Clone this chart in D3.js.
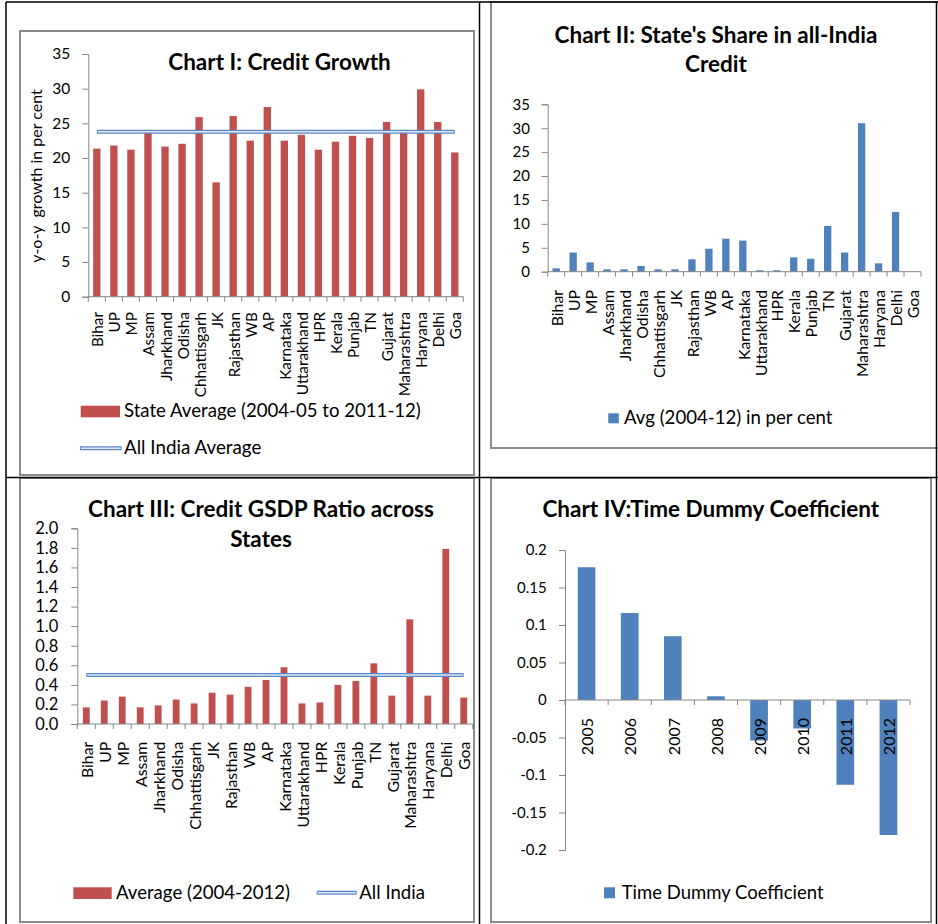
<!DOCTYPE html>
<html>
<head>
<meta charset="utf-8">
<script src="https://cdn.jsdelivr.net/npm/d3@7"></script>
<style>
  body { margin: 0; background: #fff; }
  svg { display: block; font-family: Lato, "Open Sans", sans-serif; }
</style>
</head>
<body>
<svg id="viz" width="938" height="924"></svg>
<script>
// DATA

const states = ['Bihar', 'UP', 'MP', 'Assam', 'Jharkhand', 'Odisha', 'Chhattisgarh', 'JK',
  'Rajasthan', 'WB', 'AP', 'Karnataka', 'Uttarakhand', 'HPR', 'Kerala', 'Punjab', 'TN',
  'Gujarat', 'Maharashtra', 'Haryana', 'Delhi', 'Goa'];

const creditGrowth = [21.35, 21.8, 21.2, 23.95, 21.65, 22.05, 25.9, 16.5, 26.05, 22.5, 27.35,
  22.5, 23.35, 21.2, 22.35, 23.2, 22.9, 25.2, 23.95, 29.9, 25.2, 20.8];
const creditGrowthAllIndia = 23.8;
const growthTicks = [0, 5, 10, 15, 20, 25, 30, 35];

const creditShare = [0.7, 4.0, 1.95, 0.5, 0.5, 1.2, 0.5, 0.5, 2.6, 4.8, 6.9, 6.5, 0.3, 0.3,
  3.0, 2.7, 9.55, 4.0, 31.05, 1.75, 12.5, 0];
const shareTicks = [0, 5, 10, 15, 20, 25, 30, 35];

const gsdpRatio = [0.17, 0.24, 0.28, 0.17, 0.19, 0.25, 0.21, 0.32, 0.3, 0.38, 0.45, 0.58, 0.21,
  0.22, 0.4, 0.44, 0.62, 0.29, 1.07, 0.29, 1.79, 0.27];
const gsdpAllIndia = 0.5;
const gsdpTicks = [0, 0.2, 0.4, 0.6, 0.8, 1.0, 1.2, 1.4, 1.6, 1.8, 2.0];

const years = ['2005', '2006', '2007', '2008', '2009', '2010', '2011', '2012'];
const dummyCoef = [0.177, 0.116, 0.085, 0.005, -0.054, -0.038, -0.113, -0.18];
const dummyTicks = [-0.2, -0.15, -0.1, -0.05, 0, 0.05, 0.1, 0.15, 0.2];

const RED = '#c0504d';
const BLUE = '#4f81bd';
const AXIS = '#868686';
const FRAME = '#8a8a8a';

const svg = d3.select('#viz');

// TABLE + FRAMES

const frames = [
  [20, 31, 454, 444],
  [491, 2, 470, 446],
  [20, 478, 454, 444],
  [491, 478, 440, 444]
];
svg.append('g')
  .selectAll('rect')
  .data(frames)
  .enter()
  .append('rect')
  .attr('x', (d) => d[0])
  .attr('y', (d) => d[1])
  .attr('width', (d) => d[2])
  .attr('height', (d) => d[3])
  .attr('fill', 'none')
  .attr('stroke', FRAME)
  .attr('stroke-width', 2);

const table = svg.append('g').attr('stroke', '#000').attr('stroke-width', 1.5);
table.append('line').attr('x1', 6).attr('x2', 938).attr('y1', 2).attr('y2', 2);
table.append('line').attr('x1', 6).attr('x2', 6).attr('y1', 2).attr('y2', 924);
table.append('line').attr('x1', 479.5).attr('x2', 479.5).attr('y1', 2).attr('y2', 924);
table.append('line').attr('x1', 6).attr('x2', 938).attr('y1', 477.5).attr('y2', 477.5);
table.append('line').attr('x1', 936.5).attr('x2', 936.5).attr('y1', 2).attr('y2', 924);

// CHART BUILDER

const barChart = (cfg) => {
  const g = svg.append('g');
  const x = d3.scaleBand().domain(cfg.cats).range([cfg.left, cfg.right]);
  const y = d3.scaleLinear().domain(cfg.domain).range([cfg.bottom, cfg.top]);
  const bw = x.bandwidth() * cfg.barRatio;

  // y axis
  const ya = g.append('g')
    .attr('transform', 'translate(' + cfg.left + ',0)')
    .call(d3.axisLeft(y).tickValues(cfg.ticks).tickSize(6).tickPadding(cfg.tickPad)
      .tickFormat(cfg.fmt));
  ya.select('.domain').attr('stroke', AXIS);
  ya.selectAll('.tick line').attr('stroke', AXIS);
  ya.selectAll('.tick text')
    .attr('fill', '#000')
    .style('font-size', cfg.tickFont + 'px')
    .style('font-family', 'Lato, sans-serif');

  // bars
  g.append('g')
    .selectAll('rect')
    .data(cfg.values)
    .enter()
    .append('rect')
    .attr('x', (d, i) => x(cfg.cats[i]) + (x.bandwidth() - bw) / 2)
    .attr('y', (d) => y(Math.max(0, d)))
    .attr('width', bw)
    .attr('height', (d) => Math.abs(y(d) - y(0)))
    .attr('fill', cfg.color);

  // x axis line and boundary ticks
  const y0 = y(0);
  const xa = g.append('g').attr('stroke', AXIS).attr('stroke-width', 1);
  xa.append('line')
    .attr('x1', cfg.left).attr('x2', cfg.right)
    .attr('y1', y0).attr('y2', y0);
  xa.selectAll('.bt')
    .data(d3.range(cfg.cats.length + 1))
    .enter()
    .append('line')
    .attr('x1', (i) => cfg.left + i * x.step())
    .attr('x2', (i) => cfg.left + i * x.step())
    .attr('y1', y0)
    .attr('y2', y0 + 5);

  // category labels
  g.append('g')
    .selectAll('text')
    .data(cfg.cats)
    .enter()
    .append('text')
    .attr('transform', (d) => 'translate(' + (x(d) + x.bandwidth() / 2 + 1) + ',' + cfg.labelTop + ') rotate(-90)')
    .attr('text-anchor', 'end')
    .attr('dy', '0.36em')
    .style('font-size', cfg.catFont + 'px')
    .text((d) => d);

  // average line
  if (cfg.avg !== undefined) {
    const x1 = x(cfg.cats[0]) + x.bandwidth() / 2;
    const x2 = x(cfg.cats[cfg.cats.length - 1]) + x.bandwidth() / 2;
    g.append('line')
      .attr('x1', x1).attr('x2', x2)
      .attr('y1', y(cfg.avg)).attr('y2', y(cfg.avg))
      .attr('stroke', '#5a89c8').attr('stroke-width', 4);
    g.append('line')
      .attr('x1', x1 + 1).attr('x2', x2 - 1)
      .attr('y1', y(cfg.avg)).attr('y2', y(cfg.avg))
      .attr('stroke', '#dde7f4').attr('stroke-width', 1.5);
  }

  // title
  const t = g.append('text')
    .attr('x', cfg.titleX)
    .attr('text-anchor', 'middle')
    .style('font-size', '22.5px')
    .style('font-weight', 'bold');
  cfg.title.forEach((line, i) => {
    t.append('tspan').attr('x', cfg.titleX).attr('y', cfg.titleY[i]).text(line);
  });

  return { g, x, y };
};

const legendRect = (g, x, y, w, h, color, label, tx, ty, size) => {
  g.append('rect').attr('x', x).attr('y', y).attr('width', w).attr('height', h).attr('fill', color);
  g.append('text').attr('x', tx).attr('y', ty).style('font-size', size + 'px').text(label);
};

const legendLine = (g, x1, x2, y, label, tx, ty, size) => {
  g.append('line').attr('x1', x1).attr('x2', x2).attr('y1', y).attr('y2', y)
    .attr('stroke', '#5a89c8').attr('stroke-width', 4);
  g.append('line').attr('x1', x1 + 1).attr('x2', x2 - 1).attr('y1', y).attr('y2', y)
    .attr('stroke', '#dde7f4').attr('stroke-width', 1.5);
  g.append('text').attr('x', tx).attr('y', ty).style('font-size', size + 'px').text(label);
};

// CHART I

const c1 = barChart({
  cats: states, values: creditGrowth, color: RED, avg: creditGrowthAllIndia,
  left: 88.3, right: 463.3, top: 54, bottom: 296.7, domain: [0, 35], ticks: growthTicks,
  fmt: d3.format('d'), tickPad: 12, tickFont: 15.5, catFont: 15.3, labelTop: 312, barRatio: 0.43,
  title: ['Chart I: Credit Growth'], titleX: 279.5, titleY: [70]
});
c1.g.append('text')
  .attr('transform', 'translate(36,176) rotate(-90)')
  .attr('text-anchor', 'middle')
  .attr('dy', '0.35em')
  .style('font-size', '16px')
  .style('white-space', 'pre')
  .text('y-o-y  growth in per cent');
legendRect(c1.g, 80.7, 405.7, 39.3, 11.6, RED, 'State Average (2004-05 to 2011-12)', 124, 416.5, 18.6);
legendLine(c1.g, 80, 121.7, 448.3, 'All India Average', 124, 454, 18.8);

// CHART II

const c2 = barChart({
  cats: states, values: creditShare, color: BLUE,
  left: 547.7, right: 921, top: 104.3, bottom: 271.7, domain: [0, 35], ticks: shareTicks,
  fmt: d3.format('d'), tickPad: 11.7, tickFont: 15, catFont: 15.8, labelTop: 290, barRatio: 0.43,
  title: ["Chart II: State's Share in all-India", 'Credit'], titleX: 716, titleY: [42.7, 71.7]
});
legendRect(c2.g, 608.3, 413.3, 10.5, 10, BLUE, 'Avg (2004-12) in per cent', 624, 424, 18.6);

// CHART III

const c3 = barChart({
  cats: states, values: gsdpRatio, color: RED, avg: gsdpAllIndia,
  left: 77.3, right: 472.7, top: 528.3, bottom: 724, domain: [0, 2], ticks: gsdpTicks,
  fmt: d3.format('.1f'), tickPad: 13, tickFont: 16.5, catFont: 15.8, labelTop: 741.7, barRatio: 0.38,
  title: ['Chart III: Credit GSDP Ratio across', 'States'], titleX: 261, titleY: [517.3, 546.7]
});
legendRect(c3.g, 73.3, 887.3, 38.4, 11.7, RED, 'Average (2004-2012)', 116, 898.5, 18.6);
legendLine(c3.g, 316.7, 356.7, 892.7, 'All India', 359.3, 898.5, 18.6);

// CHART IV

const c4 = barChart({
  cats: years, values: dummyCoef, color: BLUE,
  left: 565, right: 910, top: 550, bottom: 850, domain: [-0.2, 0.2], ticks: dummyTicks,
  fmt: (d) => (d === 0 ? '0' : String(+d.toFixed(2))),
  tickPad: 12.3, tickFont: 15, catFont: 16, labelTop: 718, barRatio: 0.41,
  title: ['Chart IV:Time Dummy Coefficient'], titleX: 710.8, titleY: [516.7]
});
legendRect(c4.g, 604, 887.3, 11, 11, BLUE, 'Time Dummy Coefficient', 621.7, 898.5, 18.5);
</script>
</body>
</html>
